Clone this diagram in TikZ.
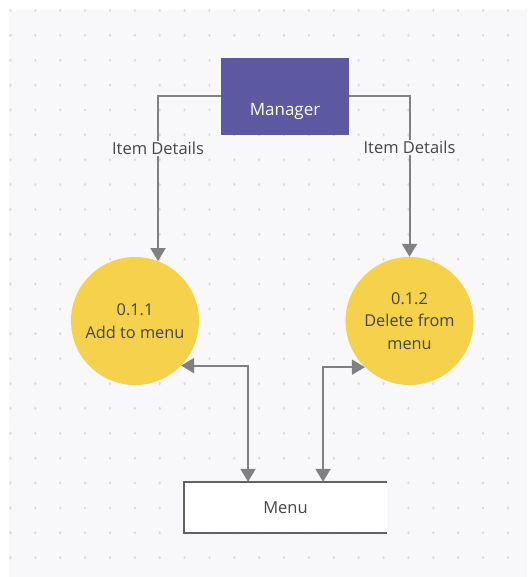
\documentclass[tikz,border=0pt]{standalone}
\usepackage{fontspec}
\setmainfont{Open Sans}
\usepackage{tikz}
\usetikzlibrary{arrows.meta,shapes,positioning,calc}
\definecolor{bggray}{HTML}{F8F8FA}
\definecolor{dotgray}{HTML}{D9D9DE}
\definecolor{mgrblue}{HTML}{5C58A2}
\definecolor{procyellow}{HTML}{F5D14C}
\definecolor{linegray}{HTML}{808080}
\definecolor{txtgray}{HTML}{454545}
\tikzset{style={>={Triangle[width=15pt,length=13pt]}}}
\tikzset{manager/.style={rectangle,fill=mgrblue,text=white,minimum width=128pt,minimum height=77pt,inner sep=0pt,text height=44pt,text depth=6pt,font=\fontsize{17}{20}\selectfont}}
\tikzset{process/.style={circle,fill=procyellow,text=txtgray,minimum size=128pt,inner sep=0pt,align=center,font=\fontsize{16.3}{22.5}\selectfont}}
\tikzset{store/.style={rectangle,fill=white,text=txtgray,minimum width=203pt,minimum height=51pt,inner sep=0pt,font=\fontsize{16.5}{20}\selectfont}}
\tikzset{flowlabel/.style={fill=bggray,text=txtgray,inner sep=1pt,font=\fontsize{16.5}{20}\selectfont}}
\tikzset{flow/.style={draw=linegray,line width=2pt}}

\begin{document}
\begin{tikzpicture}[x=1pt,y=-1pt]
    \useasboundingbox (0,0) rectangle (527,577);
    \fill[bggray] (9,10) rectangle (527,577);
    \foreach \i in {0,...,20}
      \foreach \j in {0,...,22}
        \fill[dotgray] (10.5+24.87*\i, 10.5+24.87*\j) ellipse (1.2pt and 1.7pt);

    \node[manager] (mgr) at (285, 96.5) {Manager};
    \node[process] (add) at (135, 321)  {0.1.1\\Add to menu};
    \node[process] (del) at (409.5, 321) {0.1.2\\Delete from\\menu};
    \node[store]   (mnu) at (285.5, 507.5) {Menu};

    \draw[flow,->] (mgr.west) -| (add.69) node[pos=0.657,flowlabel] (ld1) {Item Details};
    \draw[flow,->] (mgr.east) -| (del.90) node[pos=0.66,flowlabel] (ld2) {Item Details};
    \draw[flow,<->] (add.-44) -| ($(mnu.north)+(-37.5,0)$);
    \draw[flow,<->] ($(mnu.north)+(37.5,0)$) |- (del.-134);

    \draw[draw=txtgray!85,line width=1.8pt] (mnu.north east) -- (mnu.north west) -- (mnu.south west) -- (mnu.south east);
  \end{tikzpicture}
\end{document}
